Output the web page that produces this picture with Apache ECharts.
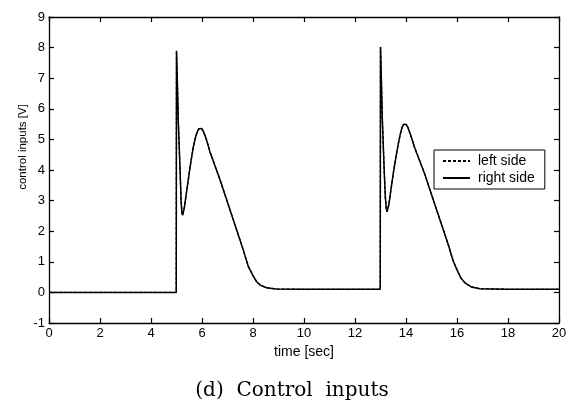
<!DOCTYPE html>
<html>
<head>
<meta charset="utf-8">
<script src="https://cdn.jsdelivr.net/npm/echarts@6/dist/echarts.min.js"></script>
<style>
html,body{margin:0;padding:0;background:#fff;}
#chart{width:575px;height:406px;}
</style>
</head>
<body>
<div id="chart"></div>
<script>
// time samples [sec]
const timeSec = [0, 4.99, 5.0, 5.03, 5.07, 5.14, 5.18, 5.21, 5.24, 5.27, 5.31, 5.38, 5.46, 5.56, 5.66, 5.73, 5.8, 5.87, 5.92, 5.98, 6.05, 6.12, 6.2, 6.31, 6.71, 7.1, 7.49, 7.65, 7.82, 8.0, 8.14, 8.3, 8.54, 8.9, 10, 12.99,
  13.0, 13.03, 13.07, 13.14, 13.19, 13.23, 13.26, 13.29, 13.33, 13.4, 13.5, 13.6, 13.7, 13.77, 13.84, 13.9, 13.95, 14.01, 14.08, 14.15, 14.23, 14.33, 14.73, 15.12, 15.51, 15.68, 15.84, 16.01, 16.16, 16.33, 16.56, 16.9, 18, 20];
// right side control input [V]
const rightSide = [0, 0, 7.9, 7.0, 5.6, 4.0, 3.0, 2.62, 2.52, 2.58, 2.78, 3.2, 3.67, 4.25, 4.75, 5.02, 5.22, 5.34, 5.38, 5.36, 5.27, 5.12, 4.92, 4.6, 3.67, 2.69, 1.71, 1.3, 0.84, 0.55, 0.35, 0.23, 0.15, 0.11, 0.1, 0.1,
  8.02, 7.1, 5.7, 4.1, 3.1, 2.72, 2.63, 2.69, 2.88, 3.3, 3.88, 4.4, 4.86, 5.15, 5.38, 5.49, 5.52, 5.49, 5.38, 5.22, 5.02, 4.75, 3.88, 2.9, 1.93, 1.5, 1.05, 0.72, 0.46, 0.3, 0.18, 0.12, 0.1, 0.1];
// left side control input [V] (overlaps the right side in the plot)
const leftSide = [0, 0, 7.9, 7.0, 5.6, 4.0, 3.0, 2.62, 2.52, 2.58, 2.78, 3.2, 3.67, 4.25, 4.75, 5.02, 5.22, 5.34, 5.38, 5.36, 5.27, 5.12, 4.92, 4.6, 3.67, 2.69, 1.71, 1.3, 0.84, 0.55, 0.35, 0.23, 0.15, 0.11, 0.1, 0.1,
  8.02, 7.1, 5.7, 4.1, 3.1, 2.72, 2.63, 2.69, 2.88, 3.3, 3.88, 4.4, 4.86, 5.15, 5.38, 5.49, 5.52, 5.49, 5.38, 5.22, 5.02, 4.75, 3.88, 2.9, 1.93, 1.5, 1.05, 0.72, 0.46, 0.3, 0.18, 0.12, 0.1, 0.1];
const seriesNames = ['left side', 'right side'];
const xTicks = [0, 2, 4, 6, 8, 10, 12, 14, 16, 18, 20];
const yTicks = [-1, 0, 1, 2, 3, 4, 5, 6, 7, 8, 9];

const zipData = (ys) => timeSec.map((t, i) => [t, ys[i]]);
const chart = echarts.init(document.getElementById('chart'), null, {renderer: 'canvas'});
const sans = 'Liberation Sans, Arial, sans-serif';
const tickFont = {color: '#000', fontFamily: sans, fontSize: 13};
const axisLine = {show: true, onZero: false, lineStyle: {color: '#000', width: 1.3}};
const tick = {show: true, inside: true, length: 5, lineStyle: {color: '#000', width: 1.2}};

chart.setOption({
  animation: false,
  backgroundColor: '#fff',
  grid: {left: 49, right: 16, top: 17, bottom: 83},
  xAxis: [{
    type: 'value', min: xTicks[0], max: xTicks[xTicks.length - 1], interval: 2,
    axisLine: axisLine, axisTick: tick, splitLine: {show: false},
    axisLabel: Object.assign({margin: 4}, tickFont),
    name: 'time [sec]', nameLocation: 'middle', nameGap: 22,
    nameTextStyle: {color: '#000', fontFamily: sans, fontSize: 14}
  }, {
    type: 'value', position: 'top', min: xTicks[0], max: xTicks[xTicks.length - 1], interval: 2,
    axisLine: axisLine, axisTick: tick, axisLabel: {show: false}, splitLine: {show: false}
  }],
  yAxis: [{
    type: 'value', min: yTicks[0], max: yTicks[yTicks.length - 1], interval: 1,
    axisLine: axisLine, axisTick: tick, splitLine: {show: false},
    axisLabel: Object.assign({margin: 4}, tickFont)
  }, {
    type: 'value', position: 'right', min: yTicks[0], max: yTicks[yTicks.length - 1], interval: 1,
    axisLine: axisLine, axisTick: tick, axisLabel: {show: false}, splitLine: {show: false}
  }],
  graphic: [{
    type: 'text', x: 23, y: 147, rotation: Math.PI / 2,
    style: {text: 'control inputs [V]', fill: '#000', font: '11.5px ' + sans, align: 'center', verticalAlign: 'middle'}
  }, {
    type: 'text', x: 292, y: 391,
    style: {text: '(d)  Control  inputs', fill: '#000', font: '20px DejaVu Serif, serif', align: 'center', verticalAlign: 'middle'}
  }],
  legend: {
    left: 434, top: 150, orient: 'vertical',
    data: seriesNames,
    itemWidth: 27, itemHeight: 12, itemGap: 3,
    padding: [4, 10, 4, 8],
    borderColor: '#000', borderWidth: 1,
    itemStyle: {opacity: 0},
    textStyle: {color: '#000', fontFamily: sans, fontSize: 14, padding: [0, 0, 0, 3]}
  },
  series: [{
    name: seriesNames[0], type: 'line', symbol: 'none', data: zipData(leftSide),
    lineStyle: {color: '#000', width: 1.3, type: [3, 2]}, itemStyle: {color: '#000'}
  }, {
    name: seriesNames[1], type: 'line', symbol: 'none', data: zipData(rightSide),
    lineStyle: {color: '#000', width: 1.5}, itemStyle: {color: '#000'}
  }]
});
</script>
</body>
</html>
